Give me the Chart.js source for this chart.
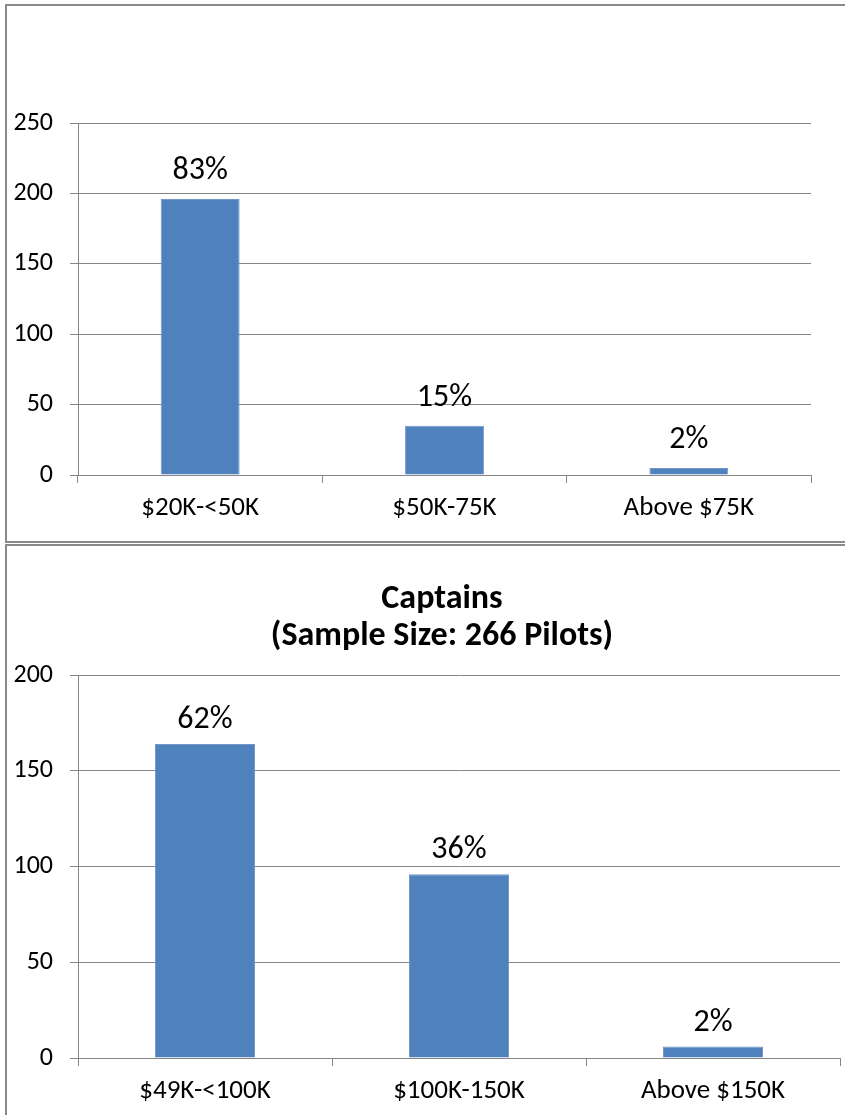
<!DOCTYPE html>
<html>
<head>
<meta charset="utf-8">
<title>Pilot salary distribution</title>
<script src="https://cdn.jsdelivr.net/npm/chart.js@4.4.1/dist/chart.umd.min.js"></script>
<style>
  html, body { margin: 0; padding: 0; background: #fff; width: 845px; height: 1115px; overflow: hidden; position: relative; }
  canvas { position: absolute; left: 0; }
  .frame { position: absolute; border: 2px solid #8a8a8a; box-sizing: border-box; pointer-events: none; }
</style>
</head>
<body>
<canvas id="firstOfficers" width="845" height="541" style="top:0"></canvas>
<canvas id="captains" width="845" height="574" style="top:541px"></canvas>
<div class="frame" style="left:5px;top:4px;width:900px;height:539px"></div>
<div class="frame" style="left:5px;top:544px;width:900px;height:700px"></div>

<script>
// Upper chart: salary bands and pilot counts
const foCategories = ['$20K-<50K', '$50K-75K', 'Above $75K'];
const foCounts = [196, 35, 5];
const foTicks = [0, 50, 100, 150, 200, 250];

// Lower chart: captains
const capTitle = ['Captains', '(Sample Size: 266 Pilots)'];
const capCategories = ['$49K-<100K', '$100K-150K', 'Above $150K'];
const capCounts = [164, 96, 6];
const capTicks = [0, 50, 100, 150, 200];

const FONT = 'Carlito, Calibri, Lato, sans-serif';
const BAR = '#4F81BD';
const GRID = '#868686';

// Writes each bar's share of the total above it
const pctLabels = {
  id: 'pctLabels',
  afterDatasetsDraw(chart, args, opts) {
    const ctx = chart.ctx;
    const data = chart.data.datasets[0].data;
    const total = data.reduce((a, b) => a + b, 0);
    const meta = chart.getDatasetMeta(0);
    ctx.save();
    ctx.font = opts.size + 'px ' + FONT;
    ctx.fillStyle = '#000';
    ctx.textAlign = 'center';
    ctx.textBaseline = 'alphabetic';
    meta.data.forEach((bar, i) => {
      const pct = Math.round(data[i] / total * 100) + '%';
      ctx.fillText(pct, bar.x, bar.y - opts.gap);
    });
    ctx.restore();
  }
};

// Two-line bold heading, centred on the chart frame (which runs past the right edge)
const frameTitle = {
  id: 'frameTitle',
  afterDraw(chart, args, opts) {
    if (!opts.lines) return;
    const ctx = chart.ctx;
    ctx.save();
    ctx.font = 'bold ' + opts.size + 'px ' + FONT;
    ctx.fillStyle = '#000';
    ctx.textAlign = 'center';
    ctx.textBaseline = 'middle';
    opts.lines.forEach((line, i) => {
      ctx.fillText(line, opts.x, opts.y + i * opts.lineGap);
    });
    ctx.restore();
  }
};

function makeChart(id, cfg) {
  const ticks = cfg.ticks;
  return new Chart(document.getElementById(id), {
    type: 'bar',
    data: {
      labels: cfg.categories,
      datasets: [{
        data: cfg.counts,
        backgroundColor: BAR,
        borderColor: '#7396c8',
        borderWidth: { top: 1, left: 1, right: 1, bottom: 0 },
        barPercentage: cfg.barPct,
        categoryPercentage: 1
      }]
    },
    plugins: [pctLabels, frameTitle],
    options: {
      responsive: false,
      animation: false,
      events: [],
      layout: { padding: cfg.padding },
      plugins: {
        legend: { display: false },
        tooltip: { enabled: false },
        title: { display: false },
        frameTitle: { lines: cfg.title || null, size: 34, x: 442, y: 58, lineGap: 37 },
        pctLabels: { size: 32, gap: cfg.labelGap }
      },
      scales: {
        x: {
          grid: { display: true, drawOnChartArea: false, drawTicks: true, tickLength: 8, color: GRID, offset: true },
          border: { display: true, color: GRID, width: 1 },
          ticks: { color: '#000', font: { family: FONT, size: 27 }, padding: 9, maxRotation: 0 },
          afterFit(scale) { scale.height = cfg.xHeight; }
        },
        y: {
          min: ticks[0],
          max: ticks[ticks.length - 1],
          afterBuildTicks(scale) { scale.ticks = ticks.map(v => ({ value: v })); },
          grid: { color: GRID, lineWidth: 1, tickLength: 8, drawTicks: true },
          border: { display: true, color: GRID, width: 1 },
          ticks: { color: '#000', font: { family: FONT, size: 26 }, padding: 17 },
          afterFit(scale) { scale.width = 78; }
        }
      }
    }
  });
}

makeChart('firstOfficers', {
  categories: foCategories,
  counts: foCounts,
  ticks: foTicks,
  barPct: 0.323,
  labelGap: 20,
  padding: { top: 123, right: 34, bottom: 0, left: 0 },
  xHeight: 66
});

makeChart('captains', {
  categories: capCategories,
  counts: capCounts,
  ticks: capTicks,
  barPct: 0.394,
  labelGap: 16,
  title: capTitle,
  padding: { top: 134, right: 5, bottom: 0, left: 0 },
  xHeight: 57
});
</script>
</body>
</html>
